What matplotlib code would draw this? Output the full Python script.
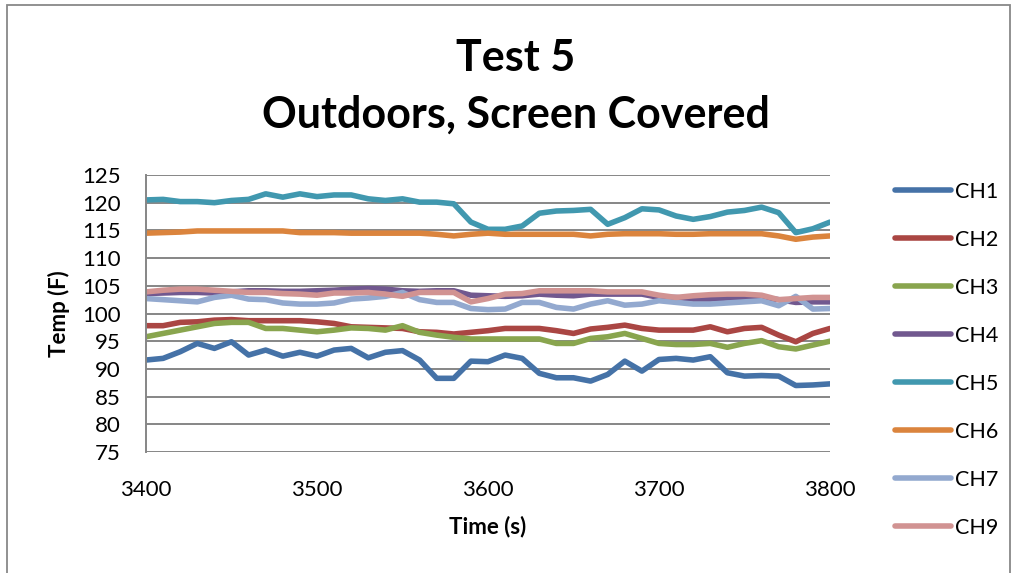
import numpy as np
import matplotlib
matplotlib.use('Agg')
import matplotlib.pyplot as plt
from matplotlib.patches import Rectangle

plt.rcParams['font.family'] = ['Lato', 'DejaVu Sans']

# time axis, one reading every 10 s
time_s = np.arange(3400, 3801, 10)

ch1 = [91.6, 91.9, 93.1, 94.6, 93.7, 94.9, 92.5, 93.4, 92.3, 93.0, 92.3, 93.4, 93.7, 92.0,
       93.0, 93.3, 91.6, 88.3, 88.3, 91.4, 91.3, 92.5, 91.9, 89.2, 88.4, 88.4, 87.8, 89.0,
       91.4, 89.6, 91.7, 91.9, 91.6, 92.2, 89.3, 88.7, 88.8, 88.7, 87.0, 87.1, 87.3]
ch2 = [97.8, 97.8, 98.4, 98.5, 98.8, 98.9, 98.7, 98.7, 98.7, 98.7, 98.5, 98.2, 97.6, 97.5,
       97.4, 97.3, 96.7, 96.6, 96.3, 96.6, 96.9, 97.3, 97.3, 97.3, 96.9, 96.4, 97.2, 97.5,
       97.9, 97.3, 97.0, 97.0, 97.0, 97.6, 96.7, 97.3, 97.5, 96.1, 94.9, 96.4, 97.3]
ch3 = [95.8, 96.4, 97.0, 97.6, 98.2, 98.4, 98.4, 97.3, 97.3, 97.0, 96.7, 97.0, 97.4, 97.3,
       97.0, 97.8, 96.6, 96.1, 95.7, 95.4, 95.4, 95.4, 95.4, 95.4, 94.6, 94.6, 95.5, 95.8,
       96.4, 95.5, 94.6, 94.4, 94.4, 94.6, 93.9, 94.6, 95.1, 94.0, 93.6, 94.3, 95.0]
ch4 = [103.6, 103.7, 103.8, 103.8, 103.7, 103.9, 104.1, 104.1, 104.0, 104.0, 104.1,
       104.2, 104.4, 104.5, 104.4, 104.1, 104.0, 104.1, 104.1, 103.3, 103.2,
       103.1, 103.2, 103.5, 103.3, 103.2, 103.5, 103.5, 103.5, 103.5, 102.9,
       102.9, 102.6, 102.6, 102.8, 102.9, 102.9, 102.5, 102.0, 102.1, 102.1]
ch5 = [120.5, 120.6, 120.2, 120.2, 120.0, 120.4, 120.6, 121.6, 121.0, 121.6, 121.1, 121.4,
       121.4, 120.7, 120.4, 120.7, 120.1, 120.1, 119.8, 116.5, 115.2, 115.2, 115.8, 118.1,
       118.5, 118.6, 118.8, 116.1, 117.3, 118.9, 118.7, 117.6, 117.0, 117.5, 118.3, 118.6,
       119.2, 118.2, 114.6, 115.3, 116.5]
ch6 = [114.5, 114.6, 114.7, 114.9, 114.9, 114.9, 114.9, 114.9, 114.9, 114.6, 114.6, 114.6,
       114.5, 114.5, 114.5, 114.5, 114.5, 114.3, 114.0, 114.3, 114.5, 114.3, 114.3, 114.3,
       114.3, 114.3, 114.0, 114.3, 114.4, 114.4, 114.4, 114.3, 114.3, 114.4, 114.4, 114.4,
       114.4, 114.0, 113.4, 113.8, 114.0]
ch7 = [102.7, 102.5, 102.3, 102.1, 102.9, 103.3, 102.6, 102.5, 101.9, 101.7, 101.7,
       101.9, 102.6, 102.8, 103.1, 103.8, 102.5, 102.0, 102.0, 100.9, 100.7,
       100.8, 102.0, 102.0, 101.1, 100.8, 101.7, 102.3, 101.5, 101.7, 102.3,
       102.0, 101.7, 101.7, 101.9, 102.1, 102.3, 101.4, 103.1, 100.8, 100.9]
ch9 = [103.9, 104.2, 104.4, 104.4, 104.2, 104.0, 103.8, 103.8, 103.6, 103.5, 103.3,
       103.7, 103.7, 103.8, 103.5, 103.1, 103.8, 103.8, 103.8, 102.1, 102.7,
       103.5, 103.6, 104.1, 104.1, 104.1, 104.1, 103.9, 103.9, 103.9, 103.3,
       102.9, 103.2, 103.4, 103.5, 103.5, 103.3, 102.5, 102.7, 102.9, 102.9]

labels = ['CH1', 'CH2', 'CH3', 'CH4', 'CH5', 'CH6', 'CH7', 'CH9']
series = [ch1, ch2, ch3, ch4, ch5, ch6, ch7, ch9]
colors = ['#4572A7', '#AA4643', '#89A54E', '#71588F', '#4198AF', '#DB843D', '#93A9CF', '#D19392']

W, H = 1013, 573
fig = plt.figure(figsize=(W / 100, H / 100), dpi=100)
ax = fig.add_axes([146 / W, 1 - 452 / H, 684 / W, 277 / H])

for y, c, lab in zip(series, colors, labels):
    ax.plot(time_s, y, color=c, lw=4.0, label=lab, solid_joinstyle='round', solid_capstyle='round')

grid_col = '#868686'
ax.set_xlim(3400, 3800)
ax.set_ylim(75, 125)
ax.set_xticks(range(3400, 3801, 100))
ax.set_yticks(range(75, 126, 5))
ax.yaxis.grid(True, color=grid_col, lw=1.4)
ax.set_axisbelow(True)
for s in ['top', 'right', 'bottom']:
    ax.spines[s].set_visible(False)
ax.spines['left'].set_color(grid_col)
ax.spines['left'].set_linewidth(1.4)
ax.tick_params(axis='both', length=0, labelsize=16)
ax.tick_params(axis='x', pad=20)
ax.tick_params(axis='y', pad=18)

ax.set_xlabel('Time (s)', fontsize=16, fontweight='bold')
ax.xaxis.set_label_coords(0.5, -0.23)
ax.set_ylabel('Temp (F)', fontsize=16, fontweight='bold')
ax.yaxis.set_label_coords(-0.111, 0.5)

fig.text(516 / W, 1 - 58 / H, 'Test 5', ha='center', va='center', fontsize=31, fontweight='bold')
fig.text(516 / W, 1 - 115 / H, 'Outdoors, Screen Covered', ha='center', va='center',
         fontsize=31, fontweight='bold')

anchor = [888 / W, 1 - 178 / H]
leg = ax.legend(loc='upper left', bbox_to_anchor=anchor,
                bbox_transform=fig.transFigure, frameon=False, fontsize=15.5,
                handlelength=2.6, handletextpad=0.2, labelspacing=1.3, borderpad=0)

# line up the first legend entry with the reference (text left edge ~955 px, centre ~192 px)
fig.canvas.draw()
bb = leg.get_texts()[0].get_window_extent()
dx = 955 - bb.x0
dy = (H - 192) - (bb.y0 + bb.y1) / 2
leg.set_bbox_to_anchor((anchor[0] + dx / W, anchor[1] + dy / H), transform=fig.transFigure)

# chart border (cropped on right and bottom)
fig.patches.append(Rectangle((7 / W, -0.1), 1003 / W, 1.1 - 5 / H, transform=fig.transFigure,
                             fill=False, edgecolor='#888888', lw=1.3))

fig.savefig('out.png', dpi=100)
